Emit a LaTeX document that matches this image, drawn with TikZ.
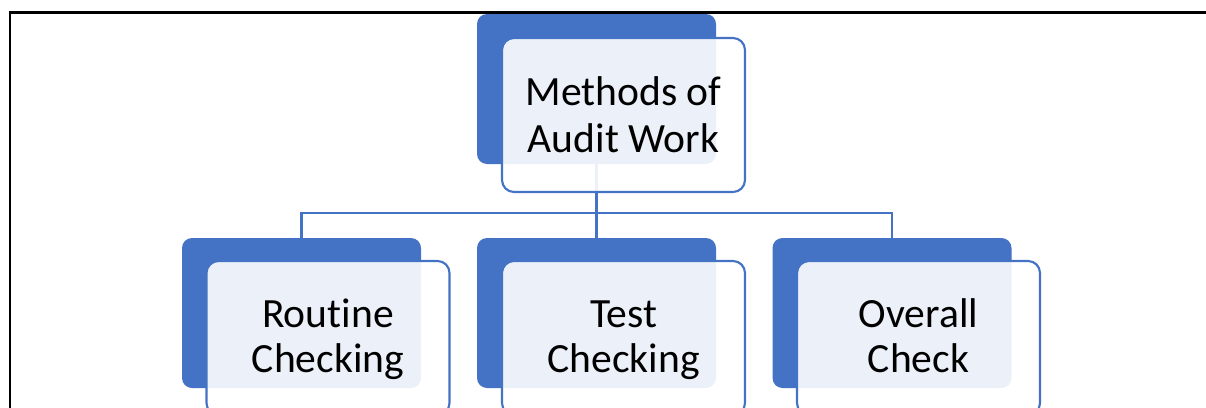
\documentclass[tikz,border=0pt]{standalone}
\usepackage{fontspec}
\setmainfont{Carlito}[Ligatures=NoCommon]
\definecolor{accent}{HTML}{4472C4}
\begin{document}
\begin{tikzpicture}[x=0.75pt,y=-0.75pt,
  bluebox/.style={fill=accent, draw=none, rounded corners=7.5pt, inner sep=0pt, outer sep=0pt,
    minimum width=179.25pt, minimum height=112.5pt},
  lightbox/.style={draw=accent, line width=1.6pt, fill=white, fill opacity=0.9, draw opacity=1,
    rounded corners=9pt, inner sep=0pt, outer sep=0pt, minimum width=182.25pt, minimum height=115.5pt},
  conn/.style={draw=accent, line width=1.6pt},
  lbl/.style={anchor=base, inner sep=0pt, font=\fontsize{31.2}{34}\selectfont, text=black}]
\useasboundingbox (0,0) rectangle (1206,407);
\draw[line width=1.6pt, black] (10,420) -- (10,12.5) -- (1210,12.5);
% dark blue boxes
\node[bluebox] (b0) at (596.5,89) {};
\node[bluebox] (b1) at (301.5,313) {};
\node[bluebox] (b2) at (596.5,313) {};
\node[bluebox] (b3) at (892,313) {};
% connectors
\coordinate (j) at (596.5,213);
\draw[conn] (b0.south) -- (b2.north);
\draw[conn] (b1.north) |- (j) -| (b3.north);
% light boxes
\node[lightbox] (l0) at (623.5,115) {};
\node[lightbox] (l1) at (328,338) {};
\node[lightbox] (l2) at (623.5,338) {};
\node[lightbox] (l3) at (918.5,338) {};
% labels
\node[lbl] (t0a) at (623.5,105) {Methods of};
\node[lbl] (t0b) at (623.5,152) {Audit Work};
\node[lbl] (t1a) at (328,327) {Routine};
\node[lbl] (t1b) at (328,372) {Checking};
\node[lbl] (t2a) at (623.5,327) {Test};
\node[lbl] (t2b) at (623.5,372) {Checking};
\node[lbl] (t3a) at (918.5,327) {Overall};
\node[lbl] (t3b) at (918.5,372) {Check};
\end{tikzpicture}
\end{document}
